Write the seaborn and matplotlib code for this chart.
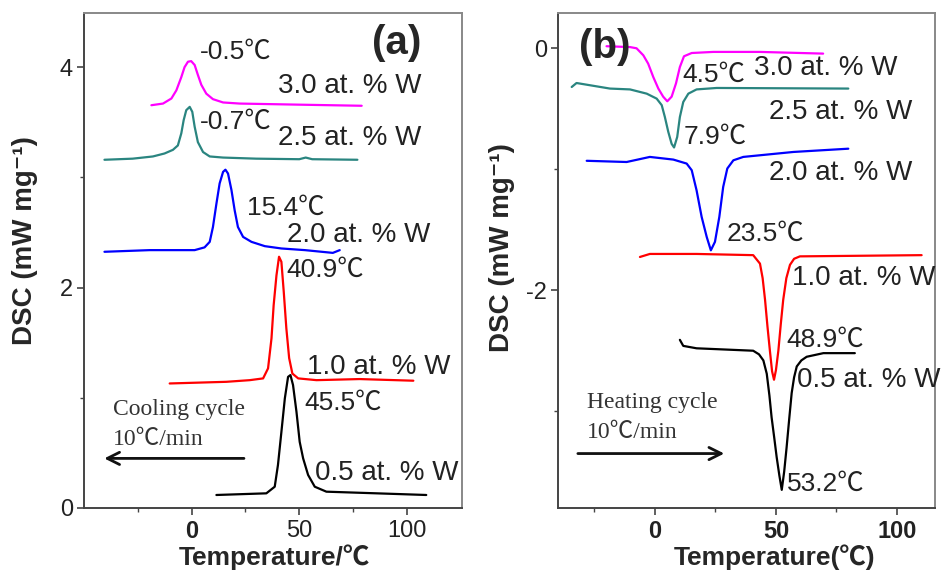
import matplotlib
matplotlib.use("Agg")
import matplotlib.pyplot as plt
import seaborn as sns

# ---- (a) cooling cycle curves: temperature (C) and DSC (mW/mg) ----
COOL_T_30 = [-18.7, -13.3, -9.4, -7.1, -4.8, -3.3, -1.7, -0.2, 1.4, 2.9, 4.5, 6.8, 9.9, 14.6,
             22.3, 50.0, 79.0]
COOL_Y_30 = [3.655, 3.67, 3.716, 3.79, 3.91, 4.00, 4.05, 4.055, 4.02, 3.93, 3.84, 3.76, 3.71, 3.68,
             3.67, 3.66, 3.65]

COOL_T_25 = [-40.5, -27.4, -18.0, -12.6, -8.7, -6.4, -4.8, -3.7, -2.5, -0.9, 0.3, 1.4, 2.9, 5.3,
             8.4, 14.6, 30.0, 50.0, 53.0, 56.0, 77.0]
COOL_Y_25 = [3.16, 3.17, 3.19, 3.217, 3.25, 3.29, 3.40, 3.52, 3.61, 3.64, 3.595, 3.46, 3.32, 3.23,
             3.19, 3.18, 3.17, 3.165, 3.18, 3.165, 3.16]

COOL_T_20 = [-40.5, -19.5, 1.4, 6.0, 8.4, 9.9, 11.5, 13.0, 14.6, 15.7, 16.9, 18.5, 20.0, 21.5,
             23.9, 27.8, 34.0, 41.7, 52.6, 65.6, 68.8]
COOL_Y_20 = [2.325, 2.34, 2.34, 2.365, 2.415, 2.55, 2.76, 2.945, 3.05, 3.07, 3.035, 2.885, 2.70, 2.55,
             2.46, 2.415, 2.376, 2.355, 2.34, 2.315, 2.34]

COOL_T_10 = [-10.2, 16.1, 27.0, 33.2, 35.5, 37.1, 38.1, 39.4, 40.6, 41.7, 42.8, 44.0, 45.3, 46.8,
             49.5, 58.0, 78.0, 103.0]
COOL_Y_10 = [1.13, 1.145, 1.16, 1.176, 1.267, 1.54, 1.84, 2.11, 2.28, 2.234, 1.96, 1.63, 1.36, 1.22,
             1.176, 1.16, 1.17, 1.155]

COOL_T_05 = [11.5, 34.7, 38.6, 40.1, 41.7, 43.3, 44.8, 45.9, 47.1, 48.7, 50.2, 51.8, 54.1, 57.2,
             62.6, 86.0, 109.0]
COOL_Y_05 = [0.118, 0.133, 0.193, 0.39, 0.69, 0.995, 1.19, 1.206, 1.116, 0.873, 0.60, 0.45, 0.30, 0.193,
             0.148, 0.133, 0.118]

# ---- (b) heating cycle curves ----
HEAT_T_30 = [-20.0, -10.3, -7.6, -4.8, -2.8, -0.7, 1.4, 3.4, 5.1, 6.9, 8.7, 10.3, 12.0, 15.2,
             24.1, 43.4, 69.5]
HEAT_Y_30 = [0.017, 0.01, 0.0, -0.058, -0.127, -0.237, -0.333, -0.40, -0.438, -0.40, -0.29, -0.155,
             -0.066, -0.039, -0.03, -0.03, -0.044]

HEAT_T_25 = [-34.4, -32.4, -18.6, -10.3, -3.4, 0.7, 2.8, 4.1, 5.5, 6.9, 7.9, 9.2, 10.3, 11.7,
             13.8, 17.2, 25.5, 79.9]
HEAT_Y_25 = [-0.32, -0.287, -0.333, -0.34, -0.375, -0.416, -0.47, -0.568, -0.69, -0.79, -0.82, -0.733,
             -0.568, -0.444, -0.375, -0.34, -0.328, -0.333]

HEAT_T_20 = [-28.2, -11.7, -2.1, 7.6, 13.1, 15.2, 17.2, 19.3, 21.4, 23.1, 24.8, 26.6, 28.2, 29.9,
             32.4, 36.5, 57.2, 79.9]
HEAT_Y_20 = [-0.93, -0.94, -0.898, -0.92, -0.953, -1.008, -1.174, -1.394, -1.56, -1.67, -1.60, -1.394,
             -1.146, -0.994, -0.926, -0.898, -0.857, -0.83]

HEAT_T_10 = [-6.2, -2.1, 17.2, 40.6, 43.4, 44.5, 45.5, 46.5, 47.5, 48.4, 49.2, 50.0, 51.0, 52.0,
             53.0, 54.3, 55.8, 57.5, 59.9, 110.2]
HEAT_Y_10 = [-1.725, -1.70, -1.70, -1.71, -1.78, -1.90, -2.08, -2.30, -2.50, -2.67, -2.74, -2.66,
             -2.50, -2.28, -2.08, -1.90, -1.79, -1.74, -1.72, -1.71]

HEAT_T_05 = [10.3, 11.7, 17.2, 40.6, 43.0, 44.8, 46.2, 47.3, 48.2, 49.3, 50.3, 51.4, 52.4, 53.4,
             54.4, 55.5, 56.5, 57.5, 58.6, 60.5, 62.7, 69.6, 82.6]
HEAT_Y_05 = [-2.41, -2.46, -2.48, -2.50, -2.53, -2.58, -2.69, -2.87, -3.05, -3.22, -3.38, -3.53,
             -3.65, -3.50, -3.30, -3.06, -2.85, -2.72, -2.63, -2.58, -2.55, -2.52, -2.52]

COMPOSITIONS = ["3.0 at. % W", "2.5 at. % W", "2.0 at. % W", "1.0 at. % W", "0.5 at. % W"]
COLORS = ["#ff00ff", "#2a8580", "#0000ff", "#ff0000", "#000000"]
COOL_PEAKS = ["-0.5℃", "-0.7℃", "15.4℃", "40.9℃", "45.5℃"]
HEAT_PEAKS = ["4.5℃", "7.9℃", "23.5℃", "48.9℃", "53.2℃"]

SANS = ["Liberation Sans", "Noto Sans CJK SC", "DejaVu Sans"]
SERIF = ["Liberation Serif", "Noto Sans CJK SC", "DejaVu Sans"]

sns.set_style("ticks")
plt.rcParams["font.family"] = SANS
plt.rcParams["axes.unicode_minus"] = False

fig = plt.figure(figsize=(9.44, 5.74), dpi=100)
ax_a = fig.add_axes([0.089, 0.115, 0.4004, 0.862])
ax_b = fig.add_axes([0.591, 0.115, 0.3994, 0.862])

cool = [(COOL_T_30, COOL_Y_30), (COOL_T_25, COOL_Y_25), (COOL_T_20, COOL_Y_20),
        (COOL_T_10, COOL_Y_10), (COOL_T_05, COOL_Y_05)]
heat = [(HEAT_T_30, HEAT_Y_30), (HEAT_T_25, HEAT_Y_25), (HEAT_T_20, HEAT_Y_20),
        (HEAT_T_10, HEAT_Y_10), (HEAT_T_05, HEAT_Y_05)]

for (t, y), c in zip(cool, COLORS):
    sns.lineplot(x=t, y=y, ax=ax_a, color=c, lw=1.6, estimator=None, sort=False)
for (t, y), c in zip(heat, COLORS):
    sns.lineplot(x=t, y=y, ax=ax_b, color=c, lw=1.6, estimator=None, sort=False)

# label positions (data coords)
cool_comp_pos = [(40, 3.83), (40, 3.36), (44.2, 2.48), (53.5, 1.28), (57.2, 0.32)]
cool_peak_pos = [(3.7, 4.14), (3.7, 3.50), (25.6, 2.72), (44.2, 2.16), (52.6, 0.95)]
heat_comp_pos = [(40.9, -0.165), (47.1, -0.53), (47.1, -1.03), (56.6, -1.90), (58.5, -2.74)]
heat_peak_pos = [(11.2, -0.22), (12.0, -0.735), (29.8, -1.53), (54.4, -2.41), (54.4, -3.60)]

for ax, comp_pos, peak_pos, peaks in [(ax_a, cool_comp_pos, cool_peak_pos, COOL_PEAKS),
                                      (ax_b, heat_comp_pos, heat_peak_pos, HEAT_PEAKS)]:
    for label, (x, y) in zip(COMPOSITIONS, comp_pos):
        ax.text(x, y, label, fontsize=20, color="#222222", va="center", ha="left", family=SANS)
    for label, (x, y) in zip(peaks, peak_pos):
        ax.text(x, y, label, fontsize=19, color="#222222", va="center", ha="left", family=SANS)

ax_a.text(83.7, 4.22, "(a)", fontsize=29, fontweight="bold", va="center", ha="left")
ax_b.text(-31.4, 0.01, "(b)", fontsize=29, fontweight="bold", va="center", ha="left")

ax_a.text(-36.7, 0.89, "Cooling cycle", fontsize=17, va="center", ha="left", family=SERIF, color="#333333")
ax_a.text(-36.7, 0.62, "10℃/min", fontsize=17, va="center", ha="left", family=SERIF, color="#333333")
ax_a.annotate("", xy=(-41.9, 0.45), xytext=(25.6, 0.45),
              arrowprops=dict(arrowstyle="->", lw=2, color="#111111", mutation_scale=22))

ax_b.text(-28.1, -2.93, "Heating cycle", fontsize=17, va="center", ha="left", family=SERIF, color="#333333")
ax_b.text(-28.1, -3.18, "10℃/min", fontsize=17, va="center", ha="left", family=SERIF, color="#333333")
ax_b.annotate("", xy=(29.8, -3.35), xytext=(-33.0, -3.35),
              arrowprops=dict(arrowstyle="->", lw=2, color="#111111", mutation_scale=22))

# axes styling
ax_a.set_xlim(-50, 125.6)
ax_a.set_ylim(0, 4.49)
ax_a.set_xticks([0, 50, 100])
ax_a.set_xticks([-25, 25, 75], minor=True)
ax_a.set_yticks([0, 2, 4])
ax_a.set_yticks([1, 3], minor=True)

ax_b.set_xlim(-40.1, 115.7)
ax_b.set_ylim(-3.8, 0.29)
ax_b.set_xticks([0, 50, 100])
ax_b.set_xticks([-25, 25, 75], minor=True)
ax_b.set_yticks([-2, 0])
ax_b.set_yticks([-3, -1], minor=True)

for ax in (ax_a, ax_b):
    ax.tick_params(which="major", direction="out", length=5, width=1.2, color="#444444",
                   labelsize=17, labelcolor="#222222", pad=3)
    ax.tick_params(which="minor", direction="out", length=3, width=1.0, color="#444444")
    ax.tick_params(axis="x", which="major", pad=4)
    for side in ("left", "bottom"):
        ax.spines[side].set_color("#444444")
        ax.spines[side].set_linewidth(1.4)
    for side in ("top", "right"):
        ax.spines[side].set_color("#888888")
        ax.spines[side].set_linewidth(1.4)

for lab in ax_b.get_xticklabels():
    lab.set_fontweight("bold")
for lab in ax_a.get_xticklabels():
    if lab.get_text() == "0":
        lab.set_fontweight("bold")

ax_a.set_xlabel("Temperature/℃", fontsize=19, fontweight="bold", family=SANS)
ax_a.set_ylabel("DSC (mW mg⁻¹)", fontsize=20, fontweight="bold", family=SANS)
ax_b.set_xlabel("Temperature(℃)", fontsize=19, fontweight="bold", family=SANS)
ax_b.set_ylabel("DSC (mW mg⁻¹)", fontsize=20, fontweight="bold", family=SANS)
ax_a.xaxis.set_label_coords(0.503, -0.074)
ax_a.yaxis.set_label_coords(-0.122, 0.54)
ax_b.xaxis.set_label_coords(0.574, -0.074)
ax_b.yaxis.set_label_coords(-0.114, 0.527)

fig.savefig("out.png", dpi=100)
plt.close(fig)
